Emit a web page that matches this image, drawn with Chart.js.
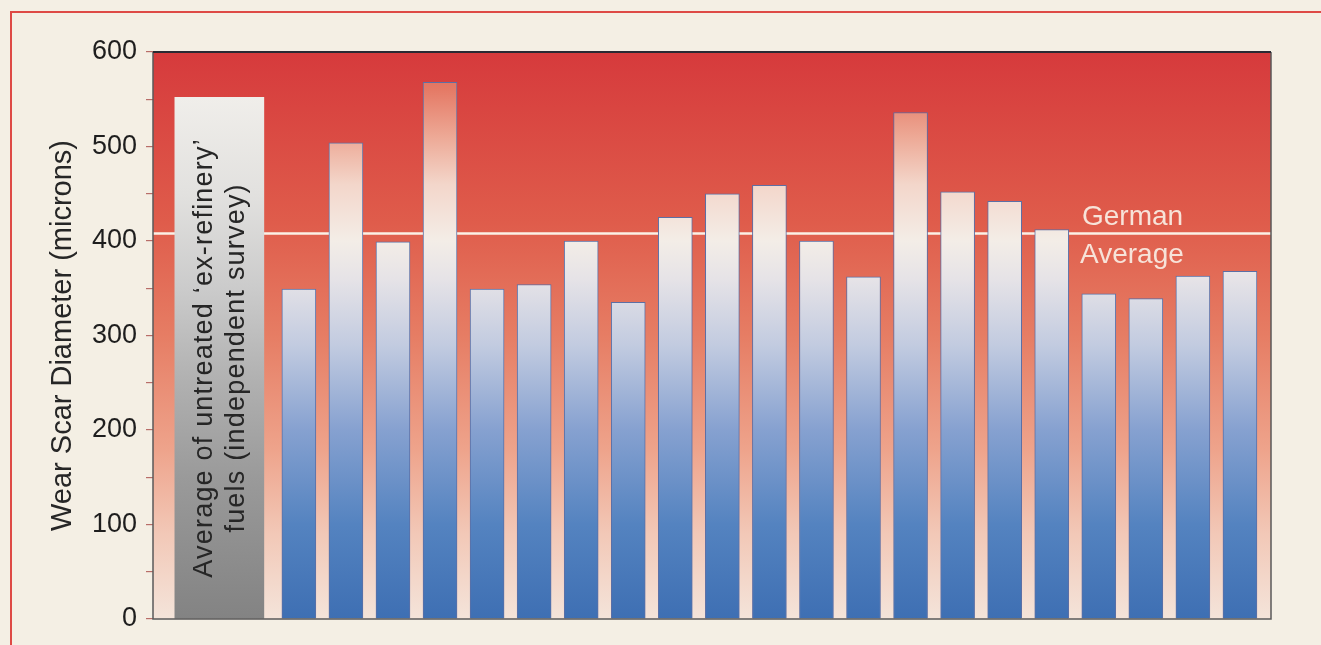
<!DOCTYPE html>
<html>
<head>
<meta charset="utf-8">
<script src="https://cdn.jsdelivr.net/npm/chart.js@4.4.1/dist/chart.umd.min.js"></script>
<style>
  html, body { margin: 0; padding: 0; background: #f4efe4; }
  #wrap { position: relative; width: 1321px; height: 645px; overflow: hidden; }
  #frame { position: absolute; left: 10px; top: 11px; width: 1340px; height: 660px;
           border-top: 2px solid #de4a45; border-left: 2px solid #de4a45; }
  canvas { position: absolute; left: 0; top: 0; }
</style>
</head>
<body>
<div id="wrap">
  <div id="frame"></div>
  <canvas id="chart" width="1321" height="645"></canvas>
</div>
<script>
// data (wear scar diameter, microns)
const fuelLabels = ['Fuel 1', 'Fuel 2', 'Fuel 3', 'Fuel 4', 'Fuel 5', 'Fuel 6', 'Fuel 7',
                    'Fuel 8', 'Fuel 9', 'Fuel 10', 'Fuel 11', 'Fuel 12', 'Fuel 13', 'Fuel 14',
                    'Fuel 15', 'Fuel 16', 'Fuel 17', 'Fuel 18', 'Fuel 19', 'Fuel 20', 'Fuel 21'];
const fuelWear = [349, 504, 399, 568, 349, 354, 400, 335, 425, 450, 459,
                  400, 362, 536, 452, 442, 412, 344, 339, 363, 368];
const surveyLabel = ['Average of untreated \u2018ex-refinery\u2019', 'fuels (independent survey)'];
const surveyWear = 552;
const germanAverage = 408;
const yTickStep = 50;
const yLabelStep = 100;

// layout of the index axis (one unit = one fuel slot)
const SURVEY_SLOT = -0.69;
const X_MIN = -2.1;
const X_MAX = 21.66;

const FONT = '"Liberation Sans", Arial, Helvetica, sans-serif';

// colour stops by axis value
const BACKGROUND_STOPS = [[0, '#f4e4da'], [90, '#f2c8b7'], [180, '#eea38b'], [300, '#e67d64'],
                          [420, '#df5c4b'], [600, '#d63a3c']];
const BAR_STOPS = [[0, '#3e6fb3'], [100, '#5483c0'], [200, '#86a1d0'], [290, '#c2cbe0'],
                   [360, '#e6e3e7'], [400, '#f3ede7'], [460, '#f3d6ca'], [510, '#eda996'],
                   [560, '#e57a66'], [600, '#dc6453']];
const GREY_STOPS = [[0, '#838383'], [150, '#9a9a9a'], [250, '#b0b0b0'], [350, '#cbcbcb'],
                    [450, '#e2e1df'], [560, '#f1efeb'], [600, '#f4f2ee']];

function valueGradient(chart, stops) {
    const {ctx, scales} = chart;
    const y = scales.y;
    const y0 = y.getPixelForValue(0);
    const y1 = y.getPixelForValue(600);
    const g = ctx.createLinearGradient(0, y0, 0, y1);
    stops.forEach(([v, c]) => g.addColorStop(v / 600, c));
    return g;
}

function scriptedGradient(stops) {
    return function (context) {
        const chart = context.chart;
        if (!chart.chartArea) return '#cccccc';
        return valueGradient(chart, stops);
    };
}

// background, German average line, frame and texts
const plotDecor = {
    id: 'plotDecor',
    beforeDatasetsDraw(chart) {
        const {ctx, chartArea: a, scales: {y}} = chart;
        ctx.save();
        ctx.fillStyle = valueGradient(chart, BACKGROUND_STOPS);
        ctx.fillRect(a.left, a.top, a.right - a.left, a.bottom - a.top);

        const gy = y.getPixelForValue(germanAverage);
        ctx.strokeStyle = '#fbf0e6';
        ctx.lineWidth = 2.5;
        ctx.beginPath();
        ctx.moveTo(a.left, gy);
        ctx.lineTo(a.right, gy);
        ctx.stroke();
        ctx.restore();
    },
    afterDatasetsDraw(chart) {
        const {ctx, chartArea: a, scales: {y}} = chart;
        ctx.save();

        // plot frame
        ctx.lineWidth = 1.5;
        ctx.strokeStyle = '#5a5a5a';
        ctx.beginPath();
        ctx.moveTo(a.left, a.top);
        ctx.lineTo(a.left, a.bottom);
        ctx.lineTo(a.right, a.bottom);
        ctx.lineTo(a.right, a.top);
        ctx.stroke();
        ctx.strokeStyle = '#2a2a33';
        ctx.lineWidth = 2;
        ctx.beginPath();
        ctx.moveTo(a.left, a.top);
        ctx.lineTo(a.right, a.top);
        ctx.stroke();

        // German average label
        const gy = y.getPixelForValue(germanAverage);
        ctx.font = '28px ' + FONT;
        ctx.fillStyle = '#f7e3d9';
        ctx.textAlign = 'left';
        ctx.textBaseline = 'alphabetic';
        ctx.fillText('German', a.right - 189, gy - 8);
        ctx.fillText('Average', a.right - 191, gy + 30);

        // survey bar text
        const bar = chart.getDatasetMeta(0).data[0];
        if (bar) {
            const mid = (bar.y + bar.base) / 2;
            ctx.translate(bar.x, mid);
            ctx.rotate(-Math.PI / 2);
            ctx.font = '27px ' + FONT;
            if ('letterSpacing' in ctx) ctx.letterSpacing = '1.2px';
            ctx.fillStyle = '#262626';
            ctx.textAlign = 'center';
            ctx.textBaseline = 'middle';
            ctx.fillText(surveyLabel[0], 0, -15);
            ctx.fillText(surveyLabel[1], 0, 17);
        }
        ctx.restore();
    }
};

new Chart(document.getElementById('chart'), {
    type: 'bar',
    data: {
        datasets: [
            {
                label: 'Survey average',
                data: [{x: SURVEY_SLOT, y: surveyWear}],
                backgroundColor: scriptedGradient(GREY_STOPS),
                borderWidth: 0,
                barThickness: 89,
                grouped: false
            },
            {
                label: 'Fuels',
                data: fuelWear.map((v, i) => ({x: i + 1, y: v, name: fuelLabels[i]})),
                backgroundColor: scriptedGradient(BAR_STOPS),
                borderColor: '#5c6fa5',
                borderWidth: 1,
                barThickness: 34,
                grouped: false
            }
        ]
    },
    options: {
        responsive: false,
        animation: false,
        layout: {padding: {left: 0, top: 52, right: 50, bottom: 26}},
        plugins: {
            legend: {display: false},
            tooltip: {enabled: false}
        },
        scales: {
            x: {
                type: 'linear',
                min: X_MIN,
                max: X_MAX,
                offset: false,
                display: false
            },
            y: {
                min: 0,
                max: 600,
                afterFit(scale) { scale.width = 153; },
                border: {display: false},
                grid: {
                    drawOnChartArea: false,
                    drawTicks: true,
                    tickLength: 7,
                    color: '#b86d68',
                    lineWidth: 1.2
                },
                ticks: {
                    stepSize: yTickStep,
                    padding: 9,
                    color: '#1e1e1e',
                    font: {family: FONT, size: 27},
                    callback: v => (v % yLabelStep === 0 ? v : '')
                },
                title: {
                    display: true,
                    text: 'Wear Scar Diameter (microns)',
                    color: '#262626',
                    font: {family: FONT, size: 29},
                    padding: {top: 46, bottom: 0}
                }
            }
        }
    },
    plugins: [plotDecor]
});
</script>
</body>
</html>
